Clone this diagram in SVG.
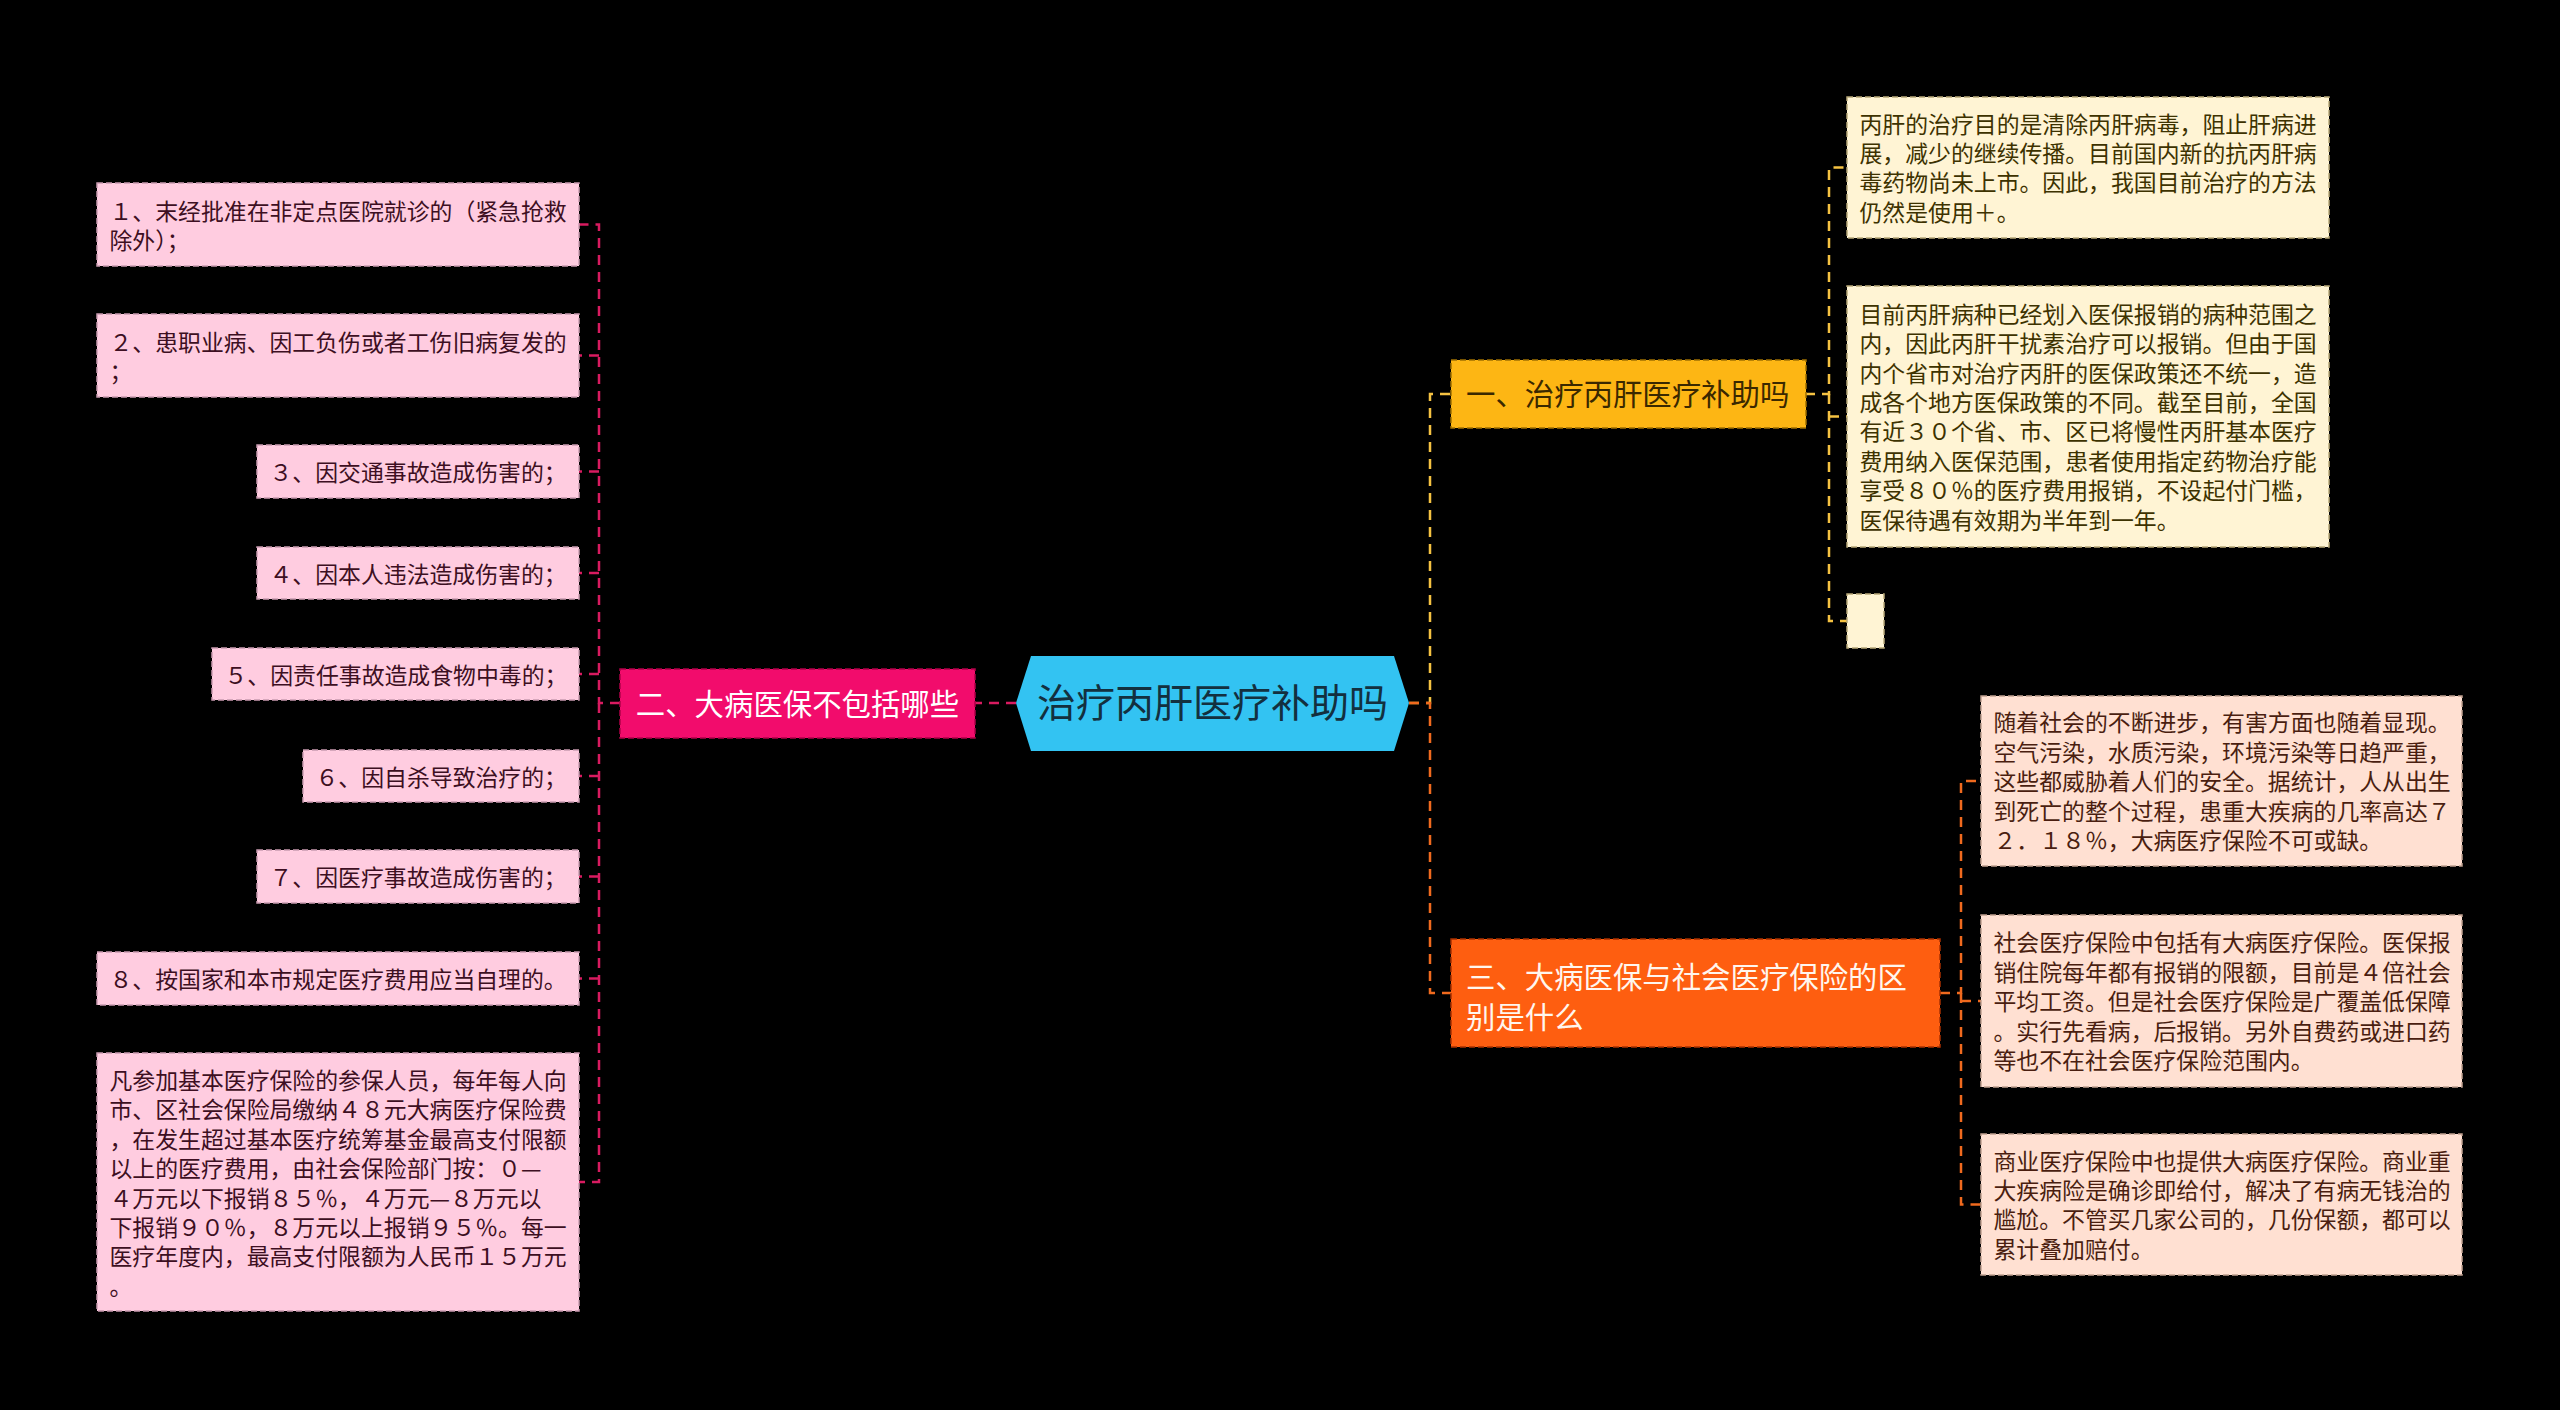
<svg xmlns="http://www.w3.org/2000/svg" width="2560" height="1410" viewBox="0 0 2560 1410">
<style>
.t{font-family:"Noto Sans CJK SC","Noto Sans",sans-serif;}
.s{font-size:22.86px;}
.b{font-size:29.4px;}
.pk{fill:#ffcce0;stroke:#c99ab0;stroke-width:1.5;stroke-dasharray:6 3;}
.pkt{fill:#3d0f22;}
.yl{fill:#fff4d4;stroke:#b8a878;stroke-width:1.5;stroke-dasharray:6 3;}
.ylt{fill:#3d3200;}
.or{fill:#ffe0d2;stroke:#c0a090;stroke-width:1.5;stroke-dasharray:6 3;}
.ort{fill:#4a1e10;}
.c{fill:none;stroke-width:2.5;stroke-dasharray:10 7;}
.cp{stroke:#d81b60;}
.cy{stroke:#f5c242;}
.co{stroke:#f06a1e;}
</style>
<rect x="0" y="0" width="2560" height="1410" fill="#000000"/>
<g id="connectors">
<path class="c cp" d="M1016,703 H975"/>
<path class="c cp" d="M620,703 H599 V224.5 H579"/>
<path class="c cp" d="M599,355.5 H579"/>
<path class="c cp" d="M599,471.5 H579"/>
<path class="c cp" d="M599,573 H579"/>
<path class="c cp" d="M599,674 H579"/>
<path class="c cp" d="M599,776 H579"/>
<path class="c cp" d="M599,876.5 H579"/>
<path class="c cp" d="M599,978.5 H579"/>
<path class="c cp" d="M599,703 V1182 H579"/>
<path class="c cy" d="M1409,703 H1430 V394 H1451"/>
<path class="c co" d="M1409,703 H1430 V993 H1451"/>
<path class="c cy" d="M1805,394 H1829 V167.5 H1847"/>
<path class="c cy" d="M1829,394 V621 H1847"/>
<path class="c cy" d="M1829,416.5 H1847"/>
<path class="c co" d="M1940,993 H1961 V781 H1981"/>
<path class="c co" d="M1961,993 V1204.5 H1981"/>
<path class="c co" d="M1961,1001 H1981"/>
</g>
<g id="root">
<polygon points="1016,703 1031,656 1394,656 1409,703 1394,751 1031,751" fill="#33c3f2"/>
<text class="t" x="1212.5" y="717" font-size="39" text-anchor="middle" fill="#13303f">治疗丙肝医疗补助吗</text>
</g>
<g id="branch2">
<rect x="620" y="669" width="355" height="69" fill="#f20c6c" stroke="#b00048" stroke-width="1.5" stroke-dasharray="6 3"/>
<text class="t b" x="797.5" y="714.5" text-anchor="middle" fill="#ffffff">二、大病医保不包括哪些</text>
</g>
<g id="n1">
<rect class="pk" x="97" y="183" width="482" height="83"/>
<text class="t s pkt" x="109.5" y="219.5">１、末经批准在非定点医院就诊的（紧急抢救</text>
<text class="t s pkt" x="109.5" y="249">除外）；</text>
</g>
<g id="n2">
<rect class="pk" x="97" y="314" width="482" height="83"/>
<text class="t s pkt" x="109.5" y="350.5">２、患职业病、因工负伤或者工伤旧病复发的</text>
<text class="t s pkt" x="109.5" y="380">；</text>
</g>
<g id="n3">
<rect class="pk" x="257" y="445" width="322" height="53"/>
<text class="t s pkt" x="269.5" y="481">３、因交通事故造成伤害的；</text>
</g>
<g id="n4">
<rect class="pk" x="257" y="547" width="322" height="52"/>
<text class="t s pkt" x="269.5" y="582.5">４、因本人违法造成伤害的；</text>
</g>
<g id="n5">
<rect class="pk" x="212" y="648" width="367" height="52"/>
<text class="t s pkt" x="224.5" y="683.5">５、因责任事故造成食物中毒的；</text>
</g>
<g id="n6">
<rect class="pk" x="303" y="750" width="276" height="52"/>
<text class="t s pkt" x="315.5" y="785.5">６、因自杀导致治疗的；</text>
</g>
<g id="n7">
<rect class="pk" x="257" y="850" width="322" height="53"/>
<text class="t s pkt" x="269.5" y="886">７、因医疗事故造成伤害的；</text>
</g>
<g id="n8">
<rect class="pk" x="97" y="952" width="482" height="53"/>
<text class="t s pkt" x="109.5" y="988">８、按国家和本市规定医疗费用应当自理的。</text>
</g>
<g id="n9">
<rect class="pk" x="97" y="1053" width="482" height="258"/>
<text class="t s pkt" x="109.5" y="1089">凡参加基本医疗保险的参保人员，每年每人向</text>
<text class="t s pkt" x="109.5" y="1118.4">市、区社会保险局缴纳４８元大病医疗保险费</text>
<text class="t s pkt" x="109.5" y="1147.8">，在发生超过基本医疗统筹基金最高支付限额</text>
<text class="t s pkt" x="109.5" y="1177.2">以上的医疗费用，由社会保险部门按：０—</text>
<text class="t s pkt" x="109.5" y="1206.6">４万元以下报销８５％，４万元—８万元以</text>
<text class="t s pkt" x="109.5" y="1236">下报销９０％，８万元以上报销９５％。每一</text>
<text class="t s pkt" x="109.5" y="1265.4">医疗年度内，最高支付限额为人民币１５万元</text>
<text class="t s pkt" x="109.5" y="1294.8">。</text>
</g>
<g id="branch1">
<rect x="1451" y="360" width="355" height="68" fill="#fdb614" stroke="#a07000" stroke-width="1.5" stroke-dasharray="6 3"/>
<text class="t b" x="1466" y="405" fill="#3a2800">一、治疗丙肝医疗补助吗</text>
</g>
<g id="y1">
<rect class="yl" x="1847" y="97" width="482" height="141"/>
<text class="t s ylt" x="1859.5" y="132.6">丙肝的治疗目的是清除丙肝病毒，阻止肝病进</text>
<text class="t s ylt" x="1859.5" y="162">展，减少的继续传播。目前国内新的抗丙肝病</text>
<text class="t s ylt" x="1859.5" y="191.4">毒药物尚未上市。因此，我国目前治疗的方法</text>
<text class="t s ylt" x="1859.5" y="220.8">仍然是使用＋。</text>
</g>
<g id="y2">
<rect class="yl" x="1847" y="286" width="482" height="261"/>
<text class="t s ylt" x="1859.5" y="322.8">目前丙肝病种已经划入医保报销的病种范围之</text>
<text class="t s ylt" x="1859.5" y="352.2">内，因此丙肝干扰素治疗可以报销。但由于国</text>
<text class="t s ylt" x="1859.5" y="381.6">内个省市对治疗丙肝的医保政策还不统一，造</text>
<text class="t s ylt" x="1859.5" y="411">成各个地方医保政策的不同。截至目前，全国</text>
<text class="t s ylt" x="1859.5" y="440.4">有近３０个省、市、区已将慢性丙肝基本医疗</text>
<text class="t s ylt" x="1859.5" y="469.8">费用纳入医保范围，患者使用指定药物治疗能</text>
<text class="t s ylt" x="1859.5" y="499.2">享受８０％的医疗费用报销，不设起付门槛，</text>
<text class="t s ylt" x="1859.5" y="528.6">医保待遇有效期为半年到一年。</text>
</g>
<g id="y3">
<rect class="yl" x="1847" y="594" width="37" height="54"/>
</g>
<g id="branch3">
<rect x="1451" y="939" width="489" height="108" fill="#fe5e10" stroke="#a83000" stroke-width="1.5" stroke-dasharray="6 3"/>
<text class="t b" x="1466" y="988" fill="#fff6ee">三、大病医保与社会医疗保险的区</text>
<text class="t b" x="1466" y="1028" fill="#fff6ee">别是什么</text>
</g>
<g id="o1">
<rect class="or" x="1981" y="696" width="481" height="170"/>
<text class="t s ort" x="1993.5" y="731.4">随着社会的不断进步，有害方面也随着显现。</text>
<text class="t s ort" x="1993.5" y="760.8">空气污染，水质污染，环境污染等日趋严重，</text>
<text class="t s ort" x="1993.5" y="790.2">这些都威胁着人们的安全。据统计，人从出生</text>
<text class="t s ort" x="1993.5" y="819.6">到死亡的整个过程，患重大疾病的几率高达７</text>
<text class="t s ort" x="1993.5" y="849">２．１８％，大病医疗保险不可或缺。</text>
</g>
<g id="o2">
<rect class="or" x="1981" y="915" width="481" height="172"/>
<text class="t s ort" x="1993.5" y="951.4">社会医疗保险中包括有大病医疗保险。医保报</text>
<text class="t s ort" x="1993.5" y="980.8">销住院每年都有报销的限额，目前是４倍社会</text>
<text class="t s ort" x="1993.5" y="1010.2">平均工资。但是社会医疗保险是广覆盖低保障</text>
<text class="t s ort" x="1993.5" y="1039.6">。实行先看病，后报销。另外自费药或进口药</text>
<text class="t s ort" x="1993.5" y="1069">等也不在社会医疗保险范围内。</text>
</g>
<g id="o3">
<rect class="or" x="1981" y="1134" width="481" height="141"/>
<text class="t s ort" x="1993.5" y="1169.6">商业医疗保险中也提供大病医疗保险。商业重</text>
<text class="t s ort" x="1993.5" y="1199">大疾病险是确诊即给付，解决了有病无钱治的</text>
<text class="t s ort" x="1993.5" y="1228.4">尴尬。不管买几家公司的，几份保额，都可以</text>
<text class="t s ort" x="1993.5" y="1257.8">累计叠加赔付。</text>
</g>
</svg>
